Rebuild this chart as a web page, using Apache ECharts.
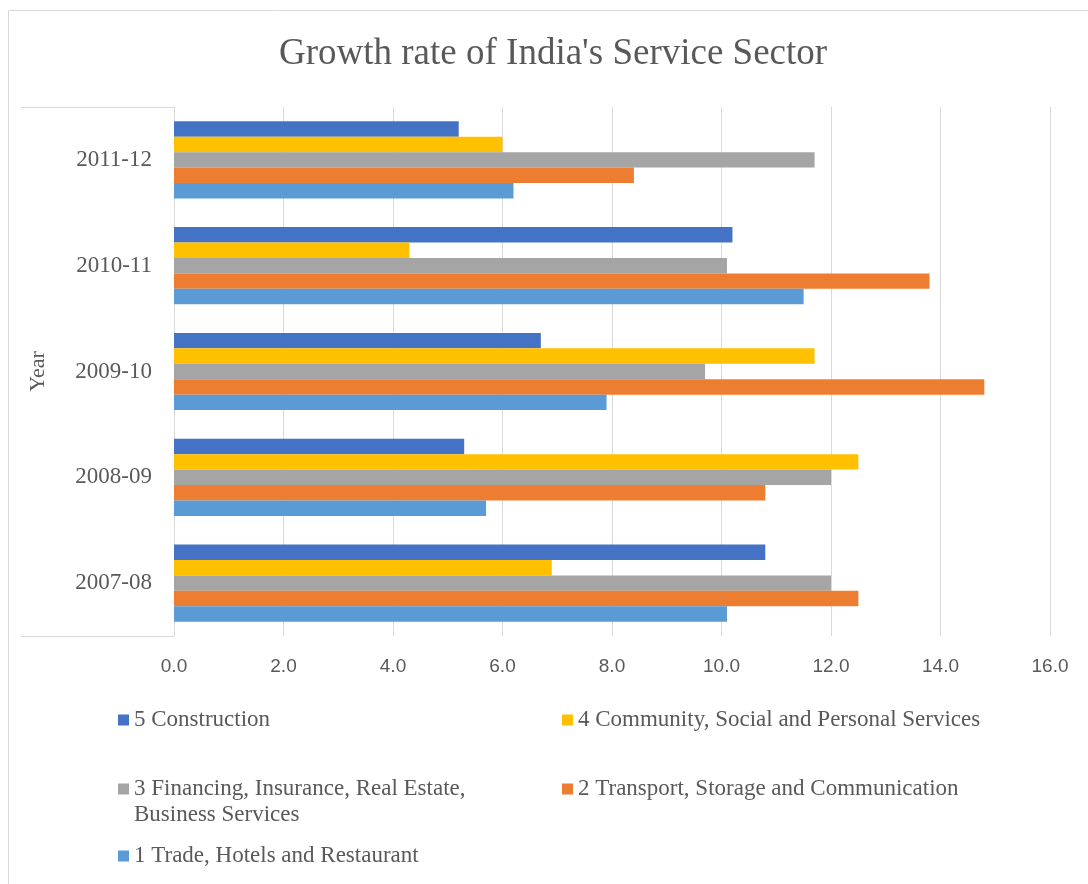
<!DOCTYPE html>
<html lang="en">
<head>
    <meta charset="UTF-8">
    <title>Growth rate of India's Service Sector</title>
    <script src="https://cdn.jsdelivr.net/npm/echarts@6/dist/echarts.min.js"></script>
    <style>
        html, body { margin: 0; padding: 0; background: #fff; }
        #chart { width: 1088px; height: 884px; }
    </style>
</head>
<body>
<div id="chart"></div>
<script type="text/javascript">
    // categories, bottom to top
    var years = ['2007-08', '2008-09', '2009-10', '2010-11', '2011-12'];

    // series values, in the same order as years
    var construction = [10.8, 5.3, 6.7, 10.2, 5.2];
    var community    = [6.9, 12.5, 11.7, 4.3, 6.0];
    var financing    = [12.0, 12.0, 9.7, 10.1, 11.7];
    var transport    = [12.5, 10.8, 14.8, 13.8, 8.4];
    var trade        = [10.1, 5.7, 7.9, 11.5, 6.2];

    // series order: first one is drawn at the top of each group
    var names = [
        '5 Construction',
        '4 Community, Social and Personal Services',
        '3 Financing, Insurance, Real Estate, Business Services',
        '2 Transport, Storage and Communication',
        '1 Trade, Hotels and Restaurant'
    ];
    var colors = ['#4472C4', '#FFC000', '#A5A5A5', '#ED7D31', '#5B9BD5'];
    var values = [construction, community, financing, transport, trade];

    var serif = '"Liberation Serif", "Times New Roman", serif';
    var textColor = '#595959';

    function legendAt(name, left, top, multi) {
        return {
            data: [name],
            left: left,
            top: top,
            padding: 0,
            icon: 'rect',
            itemWidth: 11,
            itemHeight: 11,
            selectedMode: false,
            formatter: function (n) {
                // blank first line keeps the icon level with the first text line
                return multi ? ' \n' + n.replace('Real Estate, ', 'Real Estate,\n') : n;
            },
            textStyle: {
                fontFamily: serif,
                fontSize: 23,
                color: textColor,
                lineHeight: 26
            }
        };
    }

    var chart = echarts.init(document.getElementById('chart'));

    var option = {
        animation: false,
        backgroundColor: '#fff',
        color: colors,
        title: {
            text: "Growth rate of India's Service Sector",
            left: 279,
            top: 34,
            padding: 0,
            textStyle: {
                fontFamily: serif,
                fontSize: 37,
                fontWeight: 'normal',
                color: textColor,
                lineHeight: 40
            }
        },
        legend: [
            legendAt(names[0], 118, 707, false),
            legendAt(names[1], 562, 707, false),
            legendAt(names[2], 118, 750, true),
            legendAt(names[3], 562, 776, false),
            legendAt(names[4], 118, 843, false)
        ],
        grid: {
            left: 174,
            right: 38,
            top: 107,
            bottom: 248
        },
        xAxis: {
            type: 'value',
            min: 0,
            max: 16,
            interval: 2,
            axisLine: { show: false },
            axisTick: { show: false },
            axisLabel: {
                margin: 21,
                fontFamily: '"Liberation Sans", Arial, sans-serif',
                fontSize: 19,
                color: textColor,
                formatter: function (v) { return v.toFixed(1); }
            },
            splitLine: { lineStyle: { color: '#d9d9d9', width: 1 } }
        },
        yAxis: {
            type: 'category',
            data: years,
            name: 'Year',
            nameLocation: 'middle',
            nameRotate: 90,
            nameGap: 125,
            nameTextStyle: {
                fontFamily: serif,
                fontSize: 22,
                color: textColor
            },
            axisLine: { show: true, lineStyle: { color: '#d9d9d9', width: 1 } },
            axisTick: { show: false },
            axisLabel: {
                margin: 22,
                fontFamily: serif,
                fontSize: 23,
                color: textColor
            }
        },
        graphic: [
            {   // chart area border
                type: 'rect',
                shape: { x: 8.5, y: 10.5, width: 1100, height: 900 },
                style: { fill: null, stroke: '#d9d9d9', lineWidth: 1 },
                silent: true
            },
            {
                type: 'line',
                shape: { x1: 21, y1: 107.5, x2: 174, y2: 107.5 },
                style: { stroke: '#d9d9d9', lineWidth: 1 },
                silent: true
            },
            {
                type: 'line',
                shape: { x1: 21, y1: 636.5, x2: 174, y2: 636.5 },
                style: { stroke: '#d9d9d9', lineWidth: 1 },
                silent: true
            }
        ],
        series: names.map(function (n, i) {
            return {
                name: n,
                type: 'bar',
                data: values[i],
                barGap: '0%',
                barCategoryGap: '27%',
                itemStyle: { color: colors[i] }
            };
        })
    };

    chart.setOption(option);
</script>
</body>
</html>
